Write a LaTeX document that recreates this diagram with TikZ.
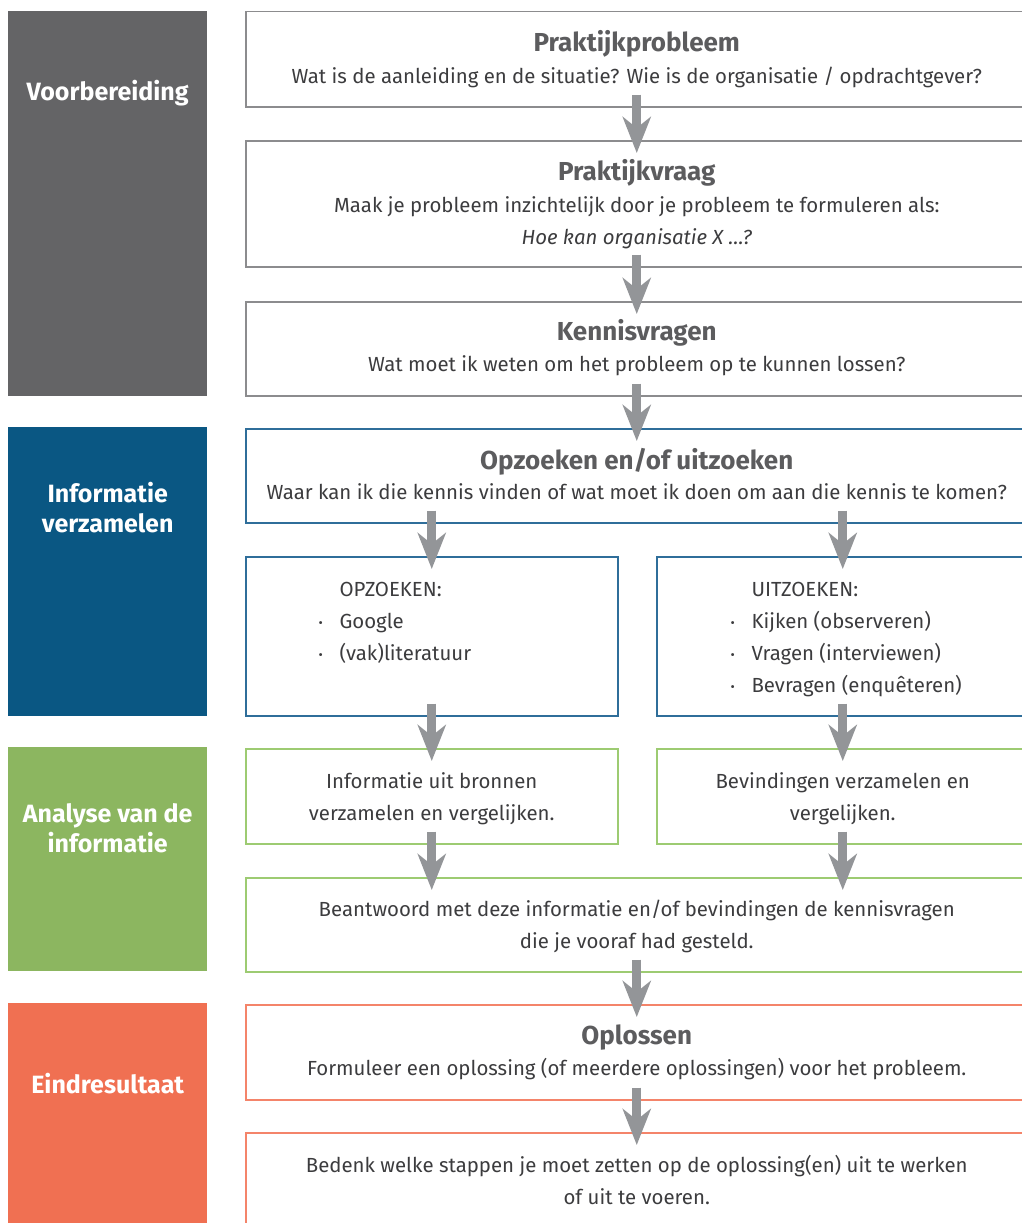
\documentclass[tikz,border=0pt]{standalone}
\usepackage{fontspec}
\setmainfont{Fira Sans}
\usetikzlibrary{arrows.meta}
\definecolor{bandgray}{HTML}{646466}
\definecolor{bandblue}{HTML}{0A5783}
\definecolor{bandgreen}{HTML}{8CB660}
\definecolor{bandorange}{HTML}{F07052}
\definecolor{boxgray}{HTML}{8C8C8E}
\definecolor{boxblue}{HTML}{2F6E9A}
\definecolor{boxgreen}{HTML}{9DCB72}
\definecolor{boxorange}{HTML}{F4846A}
\definecolor{arrowgray}{HTML}{939598}
\definecolor{txtgray}{HTML}{3C3C3E}
\definecolor{ttlgray}{HTML}{5C5C5E}
\newcommand{\bul}{\makebox[21pt][l]{\fontsize{13}{13}\selectfont\raisebox{1pt}{•}}}

\begin{document}
\begin{tikzpicture}[x=1pt,y=-1pt,
  band/.style={fill=#1, anchor=north west, minimum width=199, inner sep=0pt},
  bandlabel/.style={text=white, align=center, font=\fontsize{25}{30}\selectfont\bfseries},
  box/.style={draw=#1, line width=1.5pt, anchor=north west, inner sep=0pt},
  ttl/.style={anchor=base, text=ttlgray, font=\fontsize{26}{30}\selectfont\bfseries},
  txt/.style={anchor=base, text=txtgray, font=\fontsize{20.4}{32}\selectfont},
  arr/.style={draw=arrowgray, line width=9pt, -{Stealth[length=36pt,width=28pt,inset=11pt]}}]
  \useasboundingbox (0,0) rectangle (1022,1223);
  \clip (0,0) rectangle (1022,1223);

  % phases on the left
  \node[band=bandgray, minimum height=385] (voor) at (8,11) {};
  \node[bandlabel] (voorL) at ([yshift=-82pt]voor.north) {Voorbereiding};
  \node[band=bandblue, minimum height=289] (info) at (8,427) {};
  \node[bandlabel] (infoL) at ([yshift=-81pt]info.north) {Informatie\\verzamelen};
  \node[band=bandgreen, minimum height=224] (analyse) at (8,747) {};
  \node[bandlabel] (analyseL) at ([yshift=-81pt]analyse.north) {Analyse van de\\informatie};
  \node[band=bandorange, minimum height=240] (eind) at (8,1003) {};
  \node[bandlabel] (eindL) at ([yshift=-81pt]eind.north) {Eindresultaat};

  % voorbereiding
  \node[box=boxgray, minimum width=782, minimum height=95] (probleem) at (245,11) {};
  \node[ttl] (probleemT) at ([yshift=-41pt]probleem.north) {Praktijkprobleem};
  \node[txt] (probleemB) at ([yshift=-72pt]probleem.north) {Wat is de aanleiding en de situatie? Wie is de organisatie / opdrachtgever?};
  \node[box=boxgray, minimum width=782, minimum height=126] (vraag) at (245,140) {};
  \node[ttl] (vraagT) at ([yshift=-40pt]vraag.north) {Praktijkvraag};
  \node[txt] (vraagB) at ([yshift=-72pt]vraag.north) {Maak je probleem inzichtelijk door je probleem te formuleren als:};
  \node[txt] (vraagI) at ([yshift=-104pt]vraag.north) {\itshape Hoe kan organisatie X …?};
  \node[box=boxgray, minimum width=782, minimum height=94] (kennis) at (245,301) {};
  \node[ttl] (kennisT) at ([yshift=-39pt]kennis.north) {Kennisvragen};
  \node[txt] (kennisB) at ([yshift=-70pt]kennis.north) {Wat moet ik weten om het probleem op te kunnen lossen?};

  % informatie verzamelen
  \node[box=boxblue, minimum width=782, minimum height=94] (zoeken) at (245,428) {};
  \node[ttl] (zoekenT) at ([yshift=-41pt]zoeken.north) {Opzoeken en/of uitzoeken};
  \node[txt] (zoekenB) at ([yshift=-71pt]zoeken.north) {Waar kan ik die kennis vinden of wat moet ik doen om aan die kennis te komen?};
  \node[box=boxblue, minimum width=372, minimum height=159] (opzoeken) at (245,556) {};
  \node[txt, anchor=base west] (opzoekenT) at ([xshift=91pt,yshift=-40pt]opzoeken.north west) {OPZOEKEN:};
  \node[txt, anchor=base west] (google) at ([xshift=70pt,yshift=-72pt]opzoeken.north west) {\bul Google};
  \node[txt, anchor=base west] (literatuur) at ([xshift=70pt,yshift=-104pt]opzoeken.north west) {\bul(vak)literatuur};
  \node[box=boxblue, minimum width=372, minimum height=159] (uitzoeken) at (656,556) {};
  \node[txt, anchor=base west] (uitzoekenT) at ([xshift=92pt,yshift=-40pt]uitzoeken.north west) {UITZOEKEN:};
  \node[txt, anchor=base west] (kijken) at ([xshift=71pt,yshift=-72pt]uitzoeken.north west) {\bul Kijken (observeren)};
  \node[txt, anchor=base west] (vragen) at ([xshift=71pt,yshift=-104pt]uitzoeken.north west) {\bul Vragen (interviewen)};
  \node[txt, anchor=base west] (bevragen) at ([xshift=71pt,yshift=-136pt]uitzoeken.north west) {\bul Bevragen (enquêteren)};

  % analyse
  \node[box=boxgreen, minimum width=372, minimum height=95] (bronnen) at (245,748) {};
  \node[txt] (bronnenA) at ([yshift=-40pt]bronnen.north) {Informatie uit bronnen};
  \node[txt] (bronnenB) at ([yshift=-72pt]bronnen.north) {verzamelen en vergelijken.};
  \node[box=boxgreen, minimum width=372, minimum height=95] (bevindingen) at (656,748) {};
  \node[txt] (bevindingenA) at ([yshift=-40pt]bevindingen.north) {Bevindingen verzamelen en};
  \node[txt] (bevindingenB) at ([yshift=-72pt]bevindingen.north) {vergelijken.};
  \node[box=boxgreen, minimum width=782, minimum height=94] (antwoord) at (245,877) {};
  \node[txt] (antwoordA) at ([yshift=-39pt]antwoord.north) {Beantwoord met deze informatie en/of bevindingen de kennisvragen};
  \node[txt] (antwoordB) at ([yshift=-71pt]antwoord.north) {die je vooraf had gesteld.};

  % eindresultaat
  \node[box=boxorange, minimum width=782, minimum height=95] (oplossen) at (245,1004) {};
  \node[ttl] (oplossenT) at ([yshift=-40pt]oplossen.north) {Oplossen};
  \node[txt] (oplossenB) at ([yshift=-71pt]oplossen.north) {Formuleer een oplossing (of meerdere oplossingen) voor het probleem.};
  \node[box=boxorange, minimum width=782, minimum height=130] (stappen) at (245,1132) {};
  \node[txt] (stappenA) at ([yshift=-40pt]stappen.north) {Bedenk welke stappen je moet zetten op de oplossing(en) uit te werken};
  \node[txt] (stappenB) at ([yshift=-72pt]stappen.north) {of uit te voeren.};

  % arrows
  \draw[arr] ([yshift=13pt]probleem.south) -- ([yshift=-13pt]vraag.north);
  \draw[arr] ([yshift=13pt]vraag.south) -- ([yshift=-13pt]kennis.north);
  \draw[arr] ([yshift=13pt]kennis.south) -- ([yshift=-13pt]zoeken.north);
  \draw[arr] ([yshift=13pt]opzoeken.north |- zoeken.south) -- ([yshift=-13pt]opzoeken.north);
  \draw[arr] ([yshift=13pt]uitzoeken.north |- zoeken.south) -- ([yshift=-13pt]uitzoeken.north);
  \draw[arr] ([yshift=13pt]opzoeken.south) -- ([yshift=-13pt]bronnen.north);
  \draw[arr] ([yshift=13pt]uitzoeken.south) -- ([yshift=-13pt]bevindingen.north);
  \draw[arr] ([yshift=13pt]bronnen.south) -- ([yshift=-13pt]bronnen.south |- antwoord.north);
  \draw[arr] ([yshift=13pt]bevindingen.south) -- ([yshift=-13pt]bevindingen.south |- antwoord.north);
  \draw[arr] ([yshift=13pt]antwoord.south) -- ([yshift=-13pt]oplossen.north);
  \draw[arr] ([yshift=13pt]oplossen.south) -- ([yshift=-13pt]stappen.north);
\end{tikzpicture}
\end{document}
